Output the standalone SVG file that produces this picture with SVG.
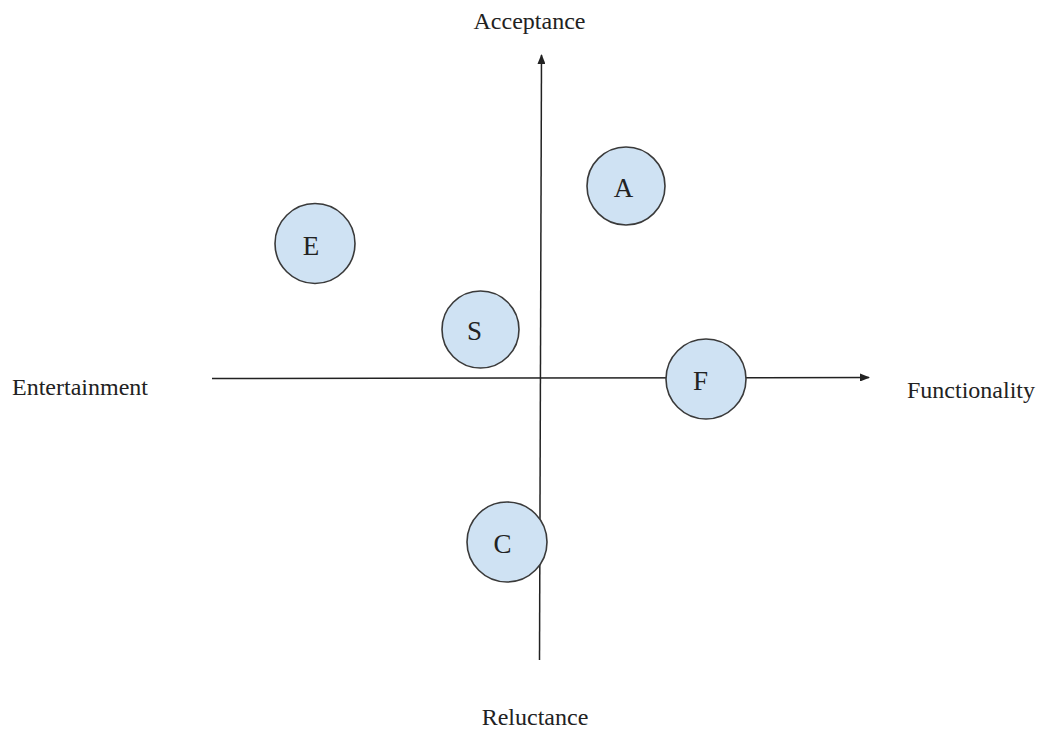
<svg xmlns="http://www.w3.org/2000/svg" width="1038" height="729" viewBox="0 0 1038 729">
<style>
.lbl{font-family:"Liberation Serif","Times New Roman",serif;font-size:24px;fill:#222}
.node circle{fill:#cfe2f3;stroke:#3a3a3a;stroke-width:1.6}
.node text{font-family:"Liberation Serif","Times New Roman",serif;font-size:27px;fill:#222;text-anchor:middle}
.axis{stroke:#222;stroke-width:1.5;fill:none}
</style>
<defs>
<marker id="arr" markerWidth="10" markerHeight="8" refX="9" refY="4" orient="auto" markerUnits="userSpaceOnUse">
<path d="M0,0 L10,4 L0,8 Z" fill="#222"/>
</marker>
</defs>
<rect width="1038" height="729" fill="#fff"/>
<g id="connectors">
<line class="axis" x1="539.5" y1="660" x2="541.5" y2="55" marker-end="url(#arr)"/>
<line class="axis" x1="212" y1="378.5" x2="869" y2="377.5" marker-end="url(#arr)"/>
</g>
<text class="lbl" x="529.5" y="29" text-anchor="middle">Acceptance</text>
<text class="lbl" x="535" y="725" text-anchor="middle">Reluctance</text>
<text class="lbl" x="12" y="395">Entertainment</text>
<text class="lbl" x="907" y="398">Functionality</text>
<g id="node-A" class="node"><circle cx="626" cy="186" r="39"/><text x="623.5" y="197">A</text></g>
<g id="node-E" class="node"><circle cx="315" cy="243.5" r="40"/><text x="311" y="255">E</text></g>
<g id="node-S" class="node"><circle cx="480.5" cy="329.5" r="38.5"/><text x="474.5" y="340">S</text></g>
<g id="node-F" class="node"><circle cx="706" cy="379" r="40"/><text x="700.5" y="390">F</text></g>
<g id="node-C" class="node"><circle cx="507" cy="542" r="40"/><text x="502.5" y="553">C</text></g>
</svg>
